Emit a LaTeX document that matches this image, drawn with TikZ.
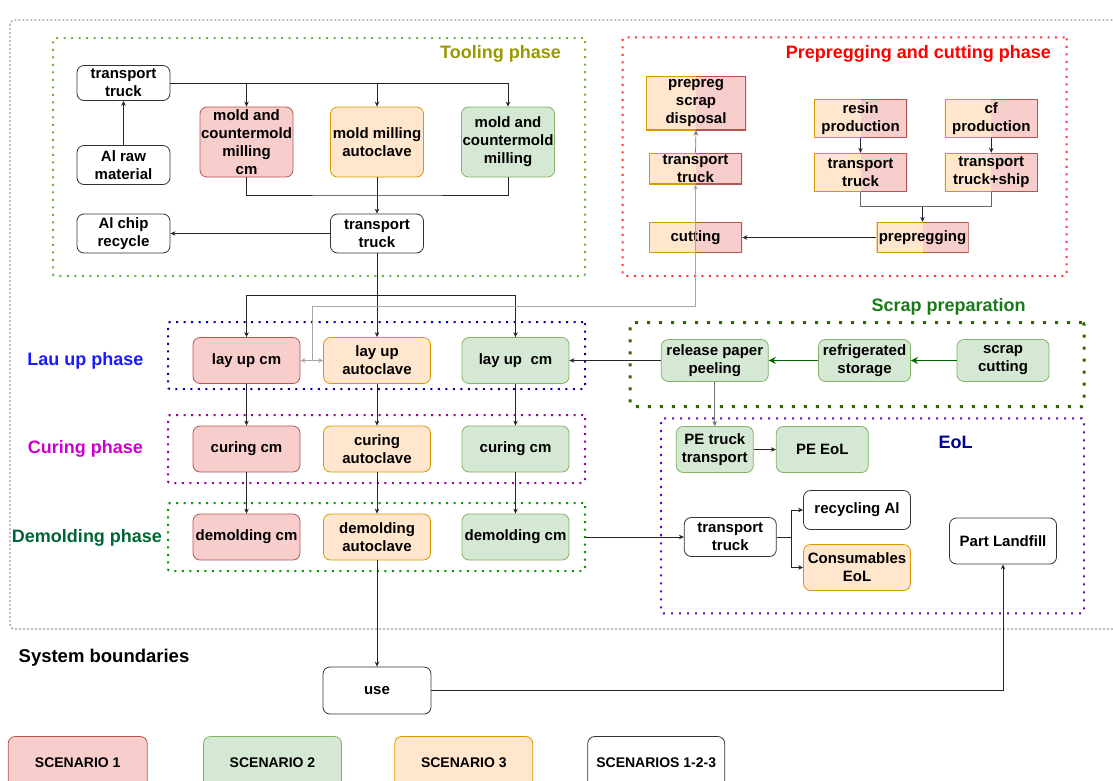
\documentclass[tikz,border=0pt]{standalone}
\usepackage{fontspec}
\setmainfont{Liberation Sans}
\usetikzlibrary{arrows.meta}
\definecolor{redF}{HTML}{F8CECC}\definecolor{redD}{HTML}{B85450}
\definecolor{grnF}{HTML}{D5E8D4}\definecolor{grnD}{HTML}{82B366}
\definecolor{orF}{HTML}{FFE6CC}\definecolor{orD}{HTML}{D79B00}
\definecolor{toolD}{HTML}{6DB33F}\definecolor{toolT}{HTML}{999900}
\definecolor{preD}{HTML}{FF3333}\definecolor{preT}{HTML}{FF0000}
\definecolor{layD}{HTML}{0000AA}\definecolor{layT}{HTML}{1A1AFF}
\definecolor{curD}{HTML}{990099}\definecolor{curT}{HTML}{CC00CC}
\definecolor{demD}{HTML}{009900}\definecolor{demT}{HTML}{006633}
\definecolor{scrD}{HTML}{336600}\definecolor{scrT}{HTML}{1A7A1A}
\definecolor{eolD}{HTML}{6600CC}\definecolor{eolT}{HTML}{000099}
\definecolor{arrG}{HTML}{006600}
\begin{document}
\begin{tikzpicture}[x=1pt,y=-1pt,
 base/.style={align=center, font=\bfseries\fontsize{15}{18}\selectfont, inner sep=1pt, line width=0.8pt},
 sz/.style 2 args={minimum width=#1pt, minimum height=#2pt},
 wbox/.style={base, rounded corners=7pt, draw=black!80, fill=white},
 rbox/.style={base, rounded corners=7pt, draw=redD, fill=redF},
 gbox/.style={base, rounded corners=7pt, draw=grnD, fill=grnF},
 obox/.style={base, rounded corners=7pt, draw=orD, fill=orF},
 sbox/.style={base, fill=white, path picture={
   \fill[orF] (path picture bounding box.south west) rectangle (path picture bounding box.north);
   \fill[redF] (path picture bounding box.south) rectangle (path picture bounding box.north east);
   \draw[orD, line width=2pt] (path picture bounding box.south) -- (path picture bounding box.south west) -- (path picture bounding box.north west) -- (path picture bounding box.north);
   \draw[redD, line width=2pt] (path picture bounding box.north) -- (path picture bounding box.north east) -- (path picture bounding box.south east) -- (path picture bounding box.south);
 }},
 lgd/.style={font=\bfseries\fontsize{14}{16}\selectfont},
 con/.style={line width=0.7pt, draw=black!85},
 arr/.style={con, -{Stealth[length=5pt,width=4.5pt]}},
 garr/.style={line width=0.7pt, draw=black!35, -{Stealth[length=5pt,width=4.5pt]}},
 gyarr/.style={line width=0.7pt, draw=black!55, -{Stealth[length=5pt,width=4.5pt]}},
 grarr/.style={line width=1.4pt, draw=arrG, -{Stealth[length=7pt,width=7pt]}},
 phase/.style={line width=2pt, dash pattern=on 2pt off 5.5pt, rounded corners=2pt, inner sep=0pt},
 ttl/.style={font=\bfseries\fontsize{18}{20}\selectfont, inner sep=0pt},
]
\useasboundingbox (0,0) rectangle (1113,780);
% system boundary
\draw[black!70, line width=0.6pt, dash pattern=on 2pt off 2pt, rounded corners=4pt] (10,20) rectangle (1125,629);
% phase containers
\node[phase, draw=toolD, sz={532}{238}] (tool) at (319,157) {};
\node[phase, draw=preD, sz={444}{238.7}] (pre) at (844.7,156.7) {};
\node[phase, draw=layD, sz={417}{67}] (lay) at (376.5,355.5) {};
\node[phase, draw=curD, sz={417}{68}] (cur) at (376.5,449) {};
\node[phase, draw=demD, sz={417}{68}] (dem) at (376.5,537) {};
\node[phase, draw=scrD, line width=3pt, dash pattern=on 3pt off 9pt, sz={454}{84}] (scr) at (857,364.5) {};
\node[phase, draw=eolD, dash pattern=on 2pt off 6pt, sz={423}{195}] (eol) at (872.7,515.8) {};
% titles
\node[ttl, text=toolT] (tooltitle) at (500.5,54) {Tooling phase};
\node[ttl, text=preT] (pretitle) at (918.3,54) {Prepregging and cutting phase};
\node[ttl, text=layT] (laytitle) at (85.5,361) {Lau up phase};
\node[ttl, text=curT] (curtitle) at (85.5,449) {Curing phase};
\node[ttl, text=demT] (demtitle) at (87,537.5) {Demolding phase};
\node[ttl, text=scrT] (scrtitle) at (948.7,307.3) {Scrap preparation};
\node[ttl, text=eolT] (eoltitle) at (955.7,442.3) {EoL};
\node[ttl, font=\bfseries\fontsize{18.5}{20}\selectfont] (systitle) at (104,657.5) {System boundaries};
% tooling
\node[wbox, sz={93}{35}] (tt1) at (123.5,83) {transport\\truck};
\node[wbox, sz={93}{39}] (alraw) at (123.5,165) {Al raw\\material};
\node[rbox, sz={93}{70}] (m1) at (246.5,142) {mold and\\countermold\\milling\\cm};
\node[obox, sz={93}{70}] (m2) at (377,142) {mold milling\\autoclave};
\node[gbox, sz={93}{70}] (m3) at (508,142) {mold and\\countermold\\milling};
\node[wbox, sz={93}{39}] (alchip) at (123.5,233.5) {Al chip\\recycle};
\node[wbox, sz={93}{39}] (tt2) at (377,233.5) {transport\\truck};
% prepregging
\node[sbox, sz={100}{54}] (disp) at (696,103) {prepreg\\scrap\\disposal};
\node[sbox, sz={93}{31}] (ptt) at (695.5,168.5) {};
\node[base] (ptttext) at (ptt) {transport\\truck};
\node[sbox, sz={93}{30.5}] (cut) at (695.5,237.5) {cutting};
\node[sbox, sz={93}{38.5}] (resin) at (860.5,118.5) {resin\\production};
\node[sbox, sz={93}{38.5}] (cf) at (991.3,118.5) {cf\\production};
\node[sbox, sz={93}{38.5}] (rtt) at (860.5,172.5) {transport\\truck};
\node[sbox, sz={93}{38.5}] (ctt) at (991.3,172.5) {transport\\truck+ship};
\node[sbox, sz={92}{30.5}] (prp) at (922.5,237.5) {prepregging};
% lay up / curing / demolding
\node[rbox, sz={107}{46}] (l1) at (246.5,360.5) {lay up cm};
\node[obox, sz={107}{46}] (l2) at (377,360.5) {lay up\\autoclave};
\node[gbox, sz={107}{46}] (l3) at (515.5,360.5) {lay up\ \ cm};
\node[rbox, sz={107}{46}] (c1) at (246.5,449) {curing cm};
\node[obox, sz={107}{46}] (c2) at (377,449) {curing\\autoclave};
\node[gbox, sz={107}{46}] (c3) at (515.5,449) {curing cm};
\node[rbox, sz={107}{46}] (d1) at (246.5,537) {demolding cm};
\node[obox, sz={107}{46}] (d2) at (377,537) {demolding\\autoclave};
\node[gbox, sz={107}{46}] (d3) at (515.5,537) {demolding cm};
% scrap preparation
\node[gbox, sz={107}{42}] (rp) at (714.8,360.5) {release paper\\peeling};
\node[gbox, sz={92}{42}] (rs) at (864.5,360.5) {refrigerated\\storage};
\node[gbox, sz={92}{42}] (sc) at (1003,360.5) {scrap\\cutting};
% EoL
\node[gbox, sz={77}{46}] (pet) at (714.8,449.5) {PE truck\\transport};
\node[gbox, sz={92}{46}] (pee) at (822.3,449.5) {PE EoL};
\node[wbox, sz={92}{39}] (ett) at (730.3,537) {transport\\truck};
\node[wbox, sz={107}{39}] (ral) at (857,510) {recycling Al};
\node[obox, sz={107}{46}] (ceol) at (857,567.5) {Consumables\\EoL};
\node[wbox, sz={107}{46}] (pl) at (1003,541) {Part Landfill};
\node[wbox, sz={108}{47}] (use) at (377,690.5) {use};
% legend
\node[rbox, lgd, sz={139}{52}] (lg1) at (77.7,762.5) {SCENARIO 1};
\node[gbox, lgd, sz={138}{52}] (lg2) at (272.5,762.5) {SCENARIO 2};
\node[obox, lgd, sz={138}{52}] (lg3) at (463.8,762.5) {SCENARIO 3};
\node[wbox, lgd, sz={137}{52}] (lg4) at (656.2,762.5) {SCENARIOS 1-2-3};
% tooling connectors
\draw[arr] (alraw) -- (tt1);
\draw[arr] (tt1.east) -| (m3.north);
\draw[arr] (tt1.east -| m1.north) -- (m1.north);
\draw[arr] (tt1.east -| m2.north) -- (m2.north);
\coordinate (jb) at (377,195);
\draw[con] (m1.south) |- (jb) -| (m3.south);
\draw[arr] (m2.south) -- (tt2.north);
\draw[arr] (tt2.west) -- (alchip.east);
\coordinate (jl) at (377,295);
\draw[arr] (tt2.south) -- (l2.north);
\draw[arr] (jl) -| (l1.north);
\draw[arr] (jl) -| (l3.north);
% gray cutting connection
\coordinate (gj) at (312,360.5);
\coordinate (gk) at (312,306.3);
\draw[garr] (gj) -- (l1.east);
\draw[garr] (gj) -- (l2.west);
\draw[garr] (gj) -- (gk) -| (ptt.south);
% prepregging connectors
\draw[gyarr] (ptt.north) -- (disp.south);
\draw[arr] (prp.west) -- (cut.east);
\draw[arr] (resin) -- (rtt);
\draw[arr] (cf) -- (ctt);
\coordinate (pj) at (922.5,206.7);
\draw[con, draw=black!60] (rtt.south) |- (pj) -| (ctt.south);
\draw[arr] (pj) -- (prp.north);
% vertical flows
\draw[arr] (l1) -- (c1);
\draw[arr] (l2) -- (c2);
\draw[arr] (l3) -- (c3);
\draw[arr] (c1) -- (d1);
\draw[arr] (c2) -- (d2);
\draw[arr] (c3) -- (d3);
\draw[arr] (d2.south) -- (use.north);
% scrap preparation
\draw[grarr] (sc.west) -- (rs.east);
\draw[grarr] (rs.west) -- (rp.east);
\draw[arr] (rp.west) -- (l3.east);
\draw[gyarr] (rp.south) -- (pet.north);
\draw[arr] (pet.east) -- (pee.west);
% EoL
\draw[arr] (dem.east) -- (ett.west);
\coordinate (ej) at (791.7,537);
\draw[arr] (ett.east) -- (ej) |- (ral.west);
\draw[arr] (ej) |- (ceol.west);
\draw[arr] (use.east) -| (pl.south);
\end{tikzpicture}
\end{document}
